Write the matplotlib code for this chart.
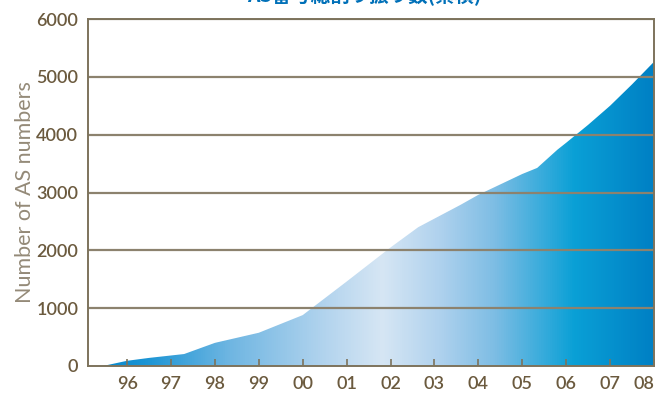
import numpy as np
import matplotlib.pyplot as plt
from matplotlib.colors import LinearSegmentedColormap
from matplotlib.patches import Polygon

plt.rcParams['font.family'] = ['Lato', 'Noto Sans CJK JP', 'DejaVu Sans']

# year positions counted from 1900 (96 -> 1996, 108 -> 2008)
years = [96, 97, 98, 99, 100, 101, 102, 103, 104, 105, 106, 107, 108]
year_labels = ['96', '97', '98', '99', '00', '01', '02', '03', '04', '05', '06', '07', '08']

# cumulative AS numbers
curve_x = [95.45, 96.0, 96.5, 97.3, 98.0, 99.0, 100.0, 101.0, 102.0, 102.63,
           103.59, 104.0, 105.0, 105.34, 105.8, 106.0, 106.5, 107.0, 107.5, 108.0]
curve_y = [0, 90, 140, 207, 400, 575, 880, 1460, 2050, 2400,
           2785, 2960, 3320, 3425, 3740, 3860, 4170, 4500, 4870, 5260]

title = 'AS番号総割り振り数(累積)'
ylabel = 'Number of AS numbers'

fig = plt.figure(figsize=(6.63, 3.94), dpi=100)
ax = fig.add_axes([88 / 663, 28 / 394, 566 / 663, 347 / 394])

x0, x1 = 95.11, 108.0
ax.set_xlim(x0, x1)
ax.set_ylim(0, 6000)

# horizontal gradient clipped by the area polygon
grad_cmap = LinearSegmentedColormap.from_list('blues', [
    (0.0, '#0086cc'),
    (0.10, '#1a94d4'),
    (0.25, '#6fb6e2'),
    (0.42, '#b3d4ee'),
    (0.52, '#d6e6f4'),
    (0.62, '#b0d2ee'),
    (0.72, '#7dbde4'),
    (0.86, '#0aa0d6'),
    (1.0, '#0080c4'),
])
grad = np.linspace(0, 1, 512).reshape(1, -1)
im = ax.imshow(grad, extent=[x0, x1, 0, 6000], aspect='auto', cmap=grad_cmap,
               origin='lower', zorder=1)
verts = list(zip(curve_x, curve_y)) + [(curve_x[-1], 0), (curve_x[0], 0)]
poly = Polygon(verts, closed=True, facecolor='none', edgecolor='none')
ax.add_patch(poly)
im.set_clip_path(poly)

line_col = '#8c826e'
for v in range(1000, 7000, 1000):
    ax.axhline(v, color=line_col, lw=1.6, zorder=2)

for s in ax.spines.values():
    s.set_color('#7d735c')
    s.set_linewidth(1.4)

ax.set_xticks(years)
ax.set_xticklabels(year_labels)
ax.set_yticks(range(0, 7000, 1000))
ax.tick_params(axis='x', direction='in', length=5, width=1.2, color='#7d735c',
               labelsize=13, labelcolor='#6b5a3e', pad=7)
ax.tick_params(axis='y', length=0, labelsize=13, labelcolor='#6b5a3e', pad=7)
for lab in ax.get_xticklabels() + ax.get_yticklabels():
    lab.set_fontweight('semibold')
ax.get_xticklabels()[-1].set_horizontalalignment('right')
ax.get_xticklabels()[-1].set_x(108.2)

ax.set_ylabel(ylabel, fontsize=15.5, color='#948a78', fontweight='normal')
ax.yaxis.set_label_coords(-0.093, 0.5)

fig.text(0.55, 1.0 - 5 / 394, title, ha='center', va='bottom', fontsize=14,
         fontweight='bold', color='#0070b8', family=['Noto Sans CJK JP', 'DejaVu Sans'])

fig.savefig('out.png', dpi=100)
